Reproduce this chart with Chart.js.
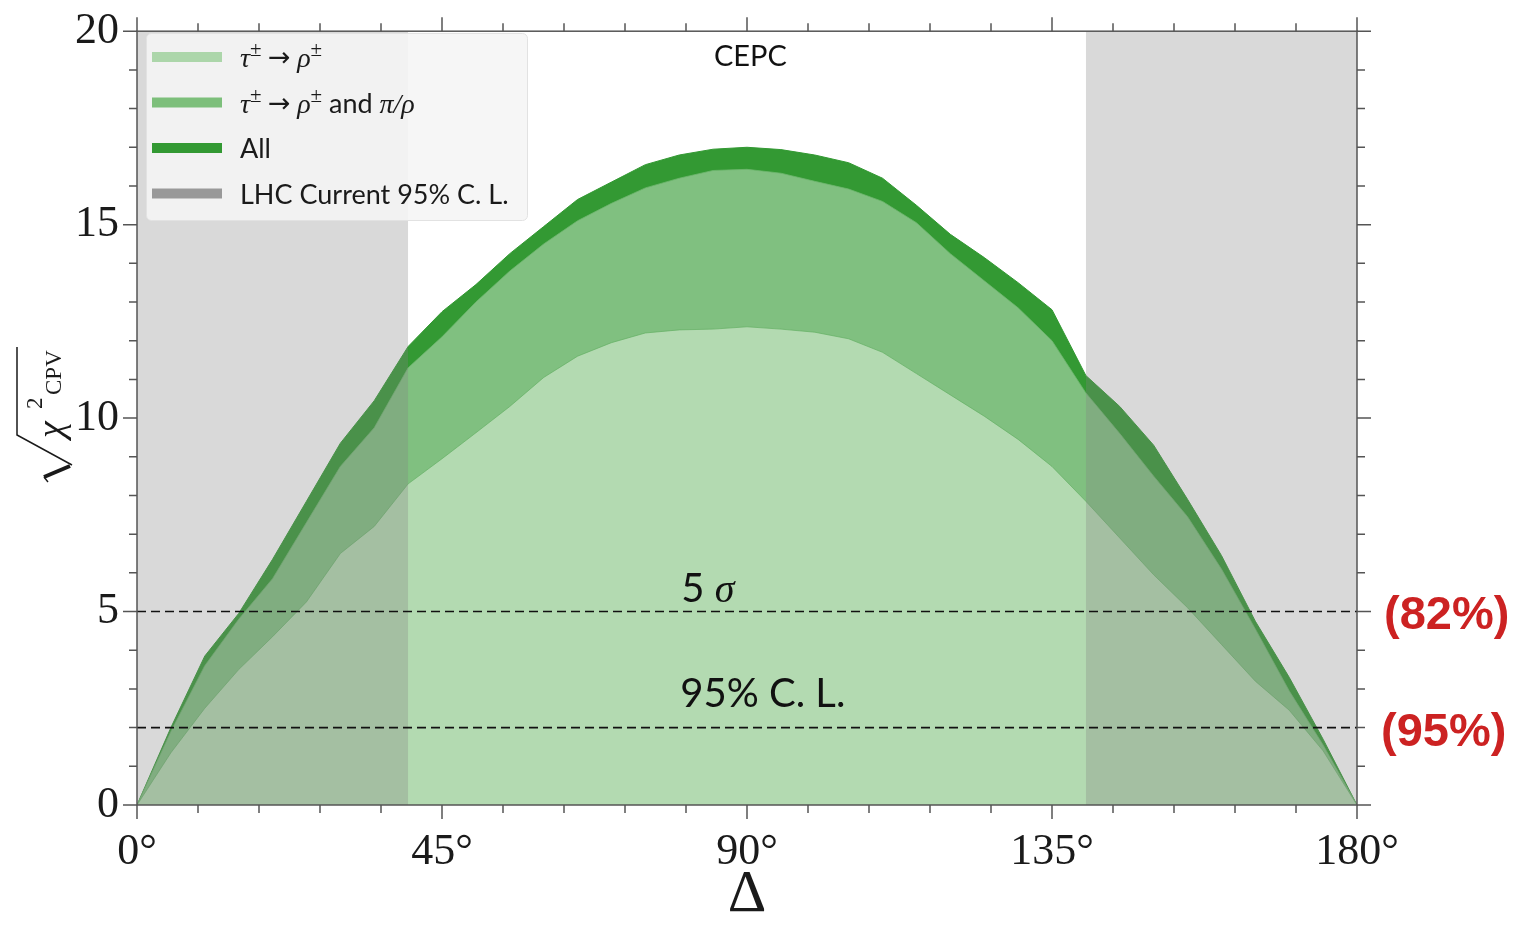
<!DOCTYPE html>
<html lang="en">
<head>
<meta charset="UTF-8">
<title>CEPC CP violation sensitivity</title>
<script src="https://cdn.jsdelivr.net/npm/chart.js"></script>
<style>
  body { margin: 0; background: #fff; }
  #chart { display: block; }
</style>
</head>
<body>
<canvas id="chart" width="1516" height="931"></canvas>
<script>
// CP phase Delta (degrees)
const angles = [0, 5, 10, 15, 20, 25, 30, 35, 40, 45, 50, 55, 60, 65, 70, 75, 80, 85, 90,
  95, 100, 105, 110, 115, 120, 125, 130, 135, 140, 145, 150, 155, 160, 165, 170, 175, 180];

// sqrt(chi^2_CPV) per channel selection
const tauRho = [0, 1.35, 2.5, 3.5, 4.35, 5.25, 6.5, 7.2, 8.3, 8.95, 9.62, 10.3, 11.05, 11.6, 11.95, 12.2, 12.28, 12.3, 12.36,
  12.3, 12.22, 12.05, 11.7, 11.15, 10.6, 10.05, 9.45, 8.75, 7.85, 6.9, 5.95, 5.1, 4.15, 3.2, 2.45, 1.4, 0];
const tauRhoPiRho = [0, 1.9, 3.6, 4.8, 5.85, 7.3, 8.75, 9.75, 11.3, 12.1, 13.0, 13.8, 14.5, 15.1, 15.55, 15.95, 16.2, 16.4, 16.43,
  16.33, 16.12, 15.92, 15.6, 15.05, 14.25, 13.55, 12.85, 12.0, 10.65, 9.6, 8.5, 7.45, 6.1, 4.55, 2.95, 1.55, 0];
const allChannels = [0, 2.0, 3.85, 4.95, 6.35, 7.85, 9.35, 10.45, 11.85, 12.75, 13.45, 14.25, 14.95, 15.65, 16.1, 16.55, 16.8, 16.95, 17.0,
  16.94, 16.8, 16.6, 16.2, 15.5, 14.75, 14.15, 13.5, 12.8, 11.1, 10.3, 9.3, 7.9, 6.45, 4.75, 3.3, 1.7, 0];

// ranges of Delta excluded by the current LHC 95% C.L.
const lhcExcluded = [[0, 40], [140, 180]];

// significance levels
const levels = [5, 2];
const levelNames = ['5 σ', '95% C. L.'];
const levelNotes = ['(82%)', '(95%)'];

const xTicks = [0, 45, 90, 135, 180];
const yTicks = [0, 5, 10, 15, 20];

const LIGHT = '#b3dab1', MEDIUM = '#80c080', DARK = '#339933';
const SERIF = "'Liberation Serif', 'DejaVu Serif', serif";
const SANS = "Lato, 'Open Sans', sans-serif";

const toPoints = vals => angles.map((a, i) => ({ x: a, y: vals[i] }));

const datasets = [];
levels.forEach(v => datasets.push({
  data: [{ x: 0, y: v }, { x: 180, y: v }],
  borderColor: '#111', borderWidth: 1.6, borderDash: [9, 5],
  pointRadius: 0, fill: false, order: 0
}));
lhcExcluded.forEach(([a, b]) => datasets.push({
  data: [{ x: a, y: 20 }, { x: b, y: 20 }],
  borderWidth: 0, backgroundColor: 'rgba(128,128,128,0.3)',
  pointRadius: 0, fill: 'origin', order: 1
}));
datasets.push(
  { data: toPoints(tauRho), backgroundColor: LIGHT, borderColor: 'rgba(100,175,100,0.7)', borderWidth: 1, order: 2 },
  { data: toPoints(tauRhoPiRho), backgroundColor: MEDIUM, borderColor: 'rgba(110,182,110,0.8)', borderWidth: 1, order: 3 },
  { data: toPoints(allChannels), backgroundColor: DARK, borderColor: DARK, borderWidth: 1, order: 4 }
);
datasets.slice(4).forEach(d => { d.fill = 'origin'; d.pointRadius = 0; d.tension = 0; });

// draw a row of text pieces with their own fonts / vertical shifts
function drawRuns(ctx, x, y, runs) {
  runs.forEach(([text, font, dy]) => {
    ctx.font = font;
    ctx.fillText(text, x, y + (dy || 0));
    x += ctx.measureText(text).width;
  });
  return x;
}

const tauToRho = [
  ['τ', 'italic 28px ' + SERIF], ['±', '21px ' + SERIF, -11],
  [' ', '26px ' + SERIF], ['→', "27px 'DejaVu Sans'", -1], [' ', '26px ' + SERIF],
  ['ρ', 'italic 28px ' + SERIF], ['±', '21px ' + SERIF, -11]
];

// frame with outward ticks on all four sides
const framePlugin = {
  id: 'frame',
  afterDatasetsDraw(chart) {
    const { ctx, chartArea: a, scales: { x, y } } = chart;
    ctx.save();
    ctx.strokeStyle = '#555';
    ctx.lineWidth = 1.5;
    ctx.strokeRect(a.left, a.top, a.right - a.left, a.bottom - a.top);
    ctx.beginPath();
    for (let v = 0; v <= 180; v += 9) {
      const px = x.getPixelForValue(v), len = v % 45 === 0 ? 14 : 8;
      ctx.moveTo(px, a.bottom); ctx.lineTo(px, a.bottom + len);
      ctx.moveTo(px, a.top); ctx.lineTo(px, a.top - len);
    }
    for (let v = 0; v <= 20; v += 1) {
      const py = y.getPixelForValue(v), len = v % 5 === 0 ? 14 : 8;
      ctx.moveTo(a.left, py); ctx.lineTo(a.left - len, py);
      ctx.moveTo(a.right, py); ctx.lineTo(a.right + len, py);
    }
    ctx.stroke();

    // labels of the significance lines
    ctx.fillStyle = '#111';
    ctx.textBaseline = 'alphabetic';
    const lx = x.getPixelForValue(80.3);
    drawRuns(ctx, lx, y.getPixelForValue(levels[0]) - 10,
      [['5 ', '40px ' + SANS], ['σ', 'italic 40px ' + SERIF]]);
    ctx.font = '40px ' + SANS;
    ctx.fillText(levelNames[1], lx - 1, y.getPixelForValue(levels[1]) - 21);

    ctx.font = '29px ' + SANS;
    ctx.textAlign = 'center';
    ctx.fillText('CEPC', x.getPixelForValue(90.5), 66);

    // confidence notes to the right of the frame
    ctx.textAlign = 'left';
    ctx.fillStyle = '#cc2222';
    ctx.font = "bold 47px 'Liberation Sans', Arial, sans-serif";
    levels.forEach((v, i) => {
      ctx.fillText(levelNotes[i], a.right + 27 - i * 3, y.getPixelForValue(v) + 17 + i);
    });
    ctx.restore();
  },
  afterDraw(chart) {
    const { ctx } = chart;
    ctx.save();

    // legend box
    ctx.fillStyle = 'rgba(245,245,245,0.9)';
    ctx.strokeStyle = '#e2e2e2';
    ctx.lineWidth = 1;
    ctx.beginPath();
    ctx.roundRect(146.5, 33.5, 381, 187, 5);
    ctx.fill();
    ctx.stroke();

    const rows = [
      ['#acd6aa', tauToRho],
      ['#7dbf7b', tauToRho.concat([[' and ', '27px ' + SANS], ['π/ρ', 'italic 28px ' + SERIF]])],
      [DARK, [['All', '27px ' + SANS]]],
      ['#999999', [['LHC Current 95% C. L.', '27px ' + SANS]]]
    ];
    rows.forEach(([color, runs], i) => {
      const cy = 57 + i * 45.5;
      ctx.strokeStyle = color;
      ctx.lineWidth = 10;
      ctx.beginPath();
      ctx.moveTo(152, cy); ctx.lineTo(222, cy);
      ctx.stroke();
      ctx.fillStyle = '#1a1a1a';
      drawRuns(ctx, 240, cy + 10, runs);
    });

    // y axis title: sqrt(chi^2_CPV), rotated
    ctx.translate(45, 415);
    ctx.rotate(-Math.PI / 2);
    ctx.strokeStyle = ctx.fillStyle = '#1a1a1a';
    ctx.lineJoin = 'miter';
    ctx.lineWidth = 1.4;
    ctx.beginPath();
    ctx.moveTo(-67, 3); ctx.lineTo(-62, -1);
    ctx.stroke();
    ctx.lineWidth = 4;
    ctx.beginPath();
    ctx.moveTo(-62, -1); ctx.lineTo(-51, 25);
    ctx.stroke();
    ctx.lineWidth = 1.5;
    ctx.beginPath();
    ctx.moveTo(-50, 27); ctx.lineTo(-20, -28); ctx.lineTo(68, -28);
    ctx.stroke();
    ctx.font = 'italic 38px ' + SERIF;
    ctx.fillText('χ', -23, 18);
    ctx.font = '23px ' + SERIF;
    ctx.fillText('2', 6, -3);
    ctx.font = '23px ' + SERIF;
    ctx.fillText('CPV', 20, 16);
    ctx.restore();
  }
};

new Chart(document.getElementById('chart'), {
  type: 'line',
  data: { datasets },
  options: {
    responsive: false,
    animation: false,
    layout: { padding: { left: 0, top: 28, right: 159, bottom: 0 } },
    plugins: { legend: { display: false }, tooltip: { enabled: false } },
    scales: {
      x: {
        type: 'linear', min: 0, max: 180,
        afterBuildTicks: s => { s.ticks = xTicks.map(v => ({ value: v })); },
        afterFit: s => { s.height = 126; },
        grid: { display: false, drawTicks: false },
        border: { display: false },
        ticks: {
          callback: v => v + '°', maxRotation: 0, minRotation: 0, autoSkip: false,
          padding: 21, color: '#1a1a1a', font: { family: SERIF, size: 44 }
        },
        title: {
          display: true, text: 'Δ', color: '#1a1a1a', padding: 0,
          font: { family: SERIF, size: 60 }
        }
      },
      y: {
        min: 0, max: 20,
        afterBuildTicks: s => { s.ticks = yTicks.map(v => ({ value: v })); },
        afterFit: s => { s.width = 137; },
        grid: { display: false, drawTicks: false },
        border: { display: false },
        ticks: { padding: 18, color: '#1a1a1a', font: { family: SERIF, size: 44, lineHeight: 0.6 } }
      }
    }
  },
  plugins: [framePlugin]
});
</script>
</body>
</html>
